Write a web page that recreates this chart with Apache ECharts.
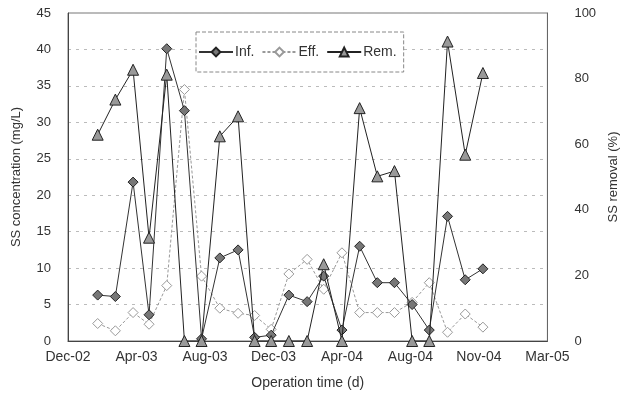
<!DOCTYPE html>
<html>
<head>
<meta charset="utf-8">
<script src="https://cdn.jsdelivr.net/npm/echarts@6/dist/echarts.min.js"></script>
<style>
html,body{margin:0;padding:0;background:#fff;}
#chart{width:628px;height:395px;}
</style>
</head>
<body>
<div id="chart"></div>
<script>
// Sampling time in days from the axis origin (Dec-02)
var days = [52, 83, 114, 142, 173, 204, 234, 266, 298, 327, 356, 387, 419, 448, 480, 511, 542, 572, 603, 633, 665, 696, 727];
// SS concentration (mg/L)
var infValues = [6.3, 6.1, 21.8, 3.6, 40.1, 31.6, 0.3, 11.4, 12.5, 0.5, 0.8, 6.3, 5.4, 8.9, 1.5, 13.0, 8.0, 8.0, 5.0, 1.5, 17.1, 8.4, 9.9];
var effValues = [2.4, 1.4, 3.9, 2.3, 7.6, 34.5, 8.9, 4.5, 3.8, 3.5, 1.6, 9.2, 11.2, 7.1, 12.1, 3.9, 3.9, 3.9, 5.3, 8.0, 1.2, 3.7, 1.9];
// SS removal (%)
var remValues = [62.9, 73.6, 82.7, 31.5, 81.2, 0, 0, 62.4, 68.5, 0, 0, 0, 0, 23.4, 0, 71.0, 50.2, 51.8, 0, 0, 91.3, 56.8, 81.7];
// x tick labels (every 120 days)
var xTickLabels = ['Dec-02', 'Apr-03', 'Aug-03', 'Dec-03', 'Apr-04', 'Aug-04', 'Nov-04', 'Mar-05'];
var seriesNames = ['Inf.', 'Eff.', 'Rem.'];

function pairs(vals) { return days.map(function (d, i) { return [d, vals[i]]; }); }

var font = 'Liberation Sans, Arial, sans-serif';
var txt = '#333';
var chart = echarts.init(document.getElementById('chart'), null, {renderer: 'canvas'});
chart.setOption({
  backgroundColor: '#fff',
  animation: false,
  textStyle: {fontFamily: font},
  grid: {left: 68, right: 73, top: 13, bottom: 53, show: true, borderColor: '#777', borderWidth: 1},
  legend: {
    left: 196, top: 32,
    orient: 'horizontal',
    backgroundColor: '#fff',
    borderColor: '#888', borderWidth: 1, borderType: 'dashed',
    padding: [13, 7, 13, 2],
    itemGap: 7, itemWidth: 34, itemHeight: 11,
    textStyle: {fontFamily: font, fontSize: 14, color: txt, padding: [0, 0, 0, -3]},
    data: seriesNames
  },
  xAxis: {
    type: 'value', min: 0, max: 840, interval: 120,
    name: 'Operation time (d)', nameLocation: 'middle', nameGap: 35,
    nameTextStyle: {fontFamily: font, fontSize: 14, color: txt},
    axisLine: {show: true, lineStyle: {color: '#444'}},
    axisTick: {show: false},
    splitLine: {show: false},
    axisLabel: {fontFamily: font, fontSize: 14, color: txt, margin: 9,
      formatter: function (v) { return xTickLabels[Math.round(v / 120)] || ''; }}
  },
  yAxis: [{
    type: 'value', min: 0, max: 45, interval: 5,
    name: 'SS concentration (mg/L)', nameLocation: 'middle', nameGap: 45, nameRotate: 90,
    nameTextStyle: {fontFamily: font, fontSize: 13, color: txt},
    axisLine: {show: true, lineStyle: {color: '#444'}},
    axisTick: {show: false},
    axisLabel: {fontFamily: font, fontSize: 13, color: txt, margin: 17},
    splitLine: {show: true, lineStyle: {color: '#bbb', type: [3, 5], width: 1}}
  }, {
    type: 'value', min: 0, max: 100, interval: 20,
    name: 'SS removal (%)', nameLocation: 'middle', nameGap: 52, nameRotate: 90,
    nameTextStyle: {fontFamily: font, fontSize: 13, color: txt},
    axisLine: {show: true, lineStyle: {color: '#666'}},
    axisTick: {show: false},
    axisLabel: {fontFamily: font, fontSize: 13, color: txt, margin: 27},
    splitLine: {show: false}
  }],
  series: [{
    name: seriesNames[0], type: 'line', yAxisIndex: 0,
    data: pairs(infValues),
    symbol: 'diamond', symbolSize: 10,
    lineStyle: {color: '#333', width: 1},
    itemStyle: {color: '#777', borderColor: '#222', borderWidth: 1},
    z: 4
  }, {
    name: seriesNames[1], type: 'line', yAxisIndex: 0,
    data: pairs(effValues),
    symbol: 'diamond', symbolSize: 10,
    lineStyle: {color: '#999', width: 1, type: [3, 2]},
    itemStyle: {color: '#fff', borderColor: '#999', borderWidth: 1},
    z: 3
  }, {
    name: seriesNames[2], type: 'line', yAxisIndex: 1,
    data: pairs(remValues),
    symbol: 'triangle', symbolSize: 11,
    lineStyle: {color: '#222', width: 1},
    itemStyle: {color: '#999', borderColor: '#222', borderWidth: 1},
    z: 5
  }]
});
</script>
</body>
</html>
